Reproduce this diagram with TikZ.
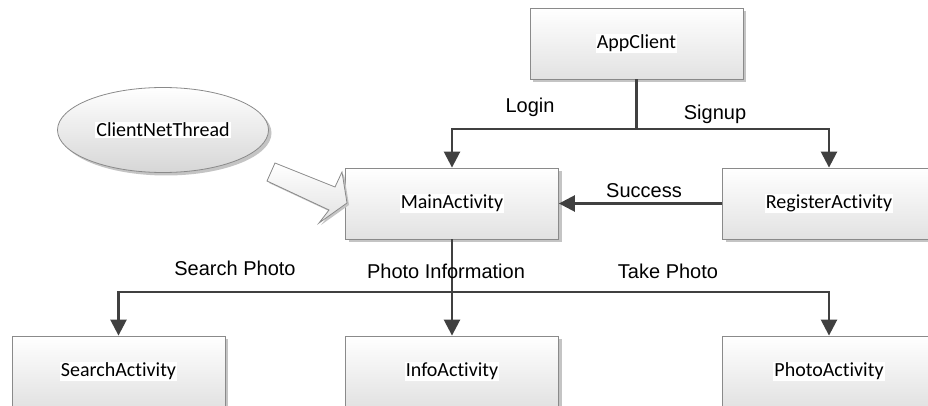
\documentclass[tikz,border=0pt]{standalone}
\usepackage{fontspec}
\setmainfont{Carlito}[Ligatures={NoCommon}]
\newfontfamily\labelfont{Liberation Sans}
\usetikzlibrary{arrows.meta,shapes.geometric,shadows}
\definecolor{linegray}{HTML}{404040}
\definecolor{edgegray}{HTML}{8A8A8A}
\definecolor{shadegray}{HTML}{E2E2E2}
\definecolor{shadowgray}{HTML}{C4C4C4}
\newcommand\onwhite[1]{{\setlength\fboxsep{1pt}\colorbox{white}{#1}}}
\tikzset{
  boxshadow/.style={drop shadow={shadow xshift=3pt, shadow yshift=-3pt, fill=shadowgray, opacity=1}},
  actbox/.style={rectangle, draw=edgegray, line width=0.8pt, top color=white,
    bottom color=shadegray, minimum width=213pt, minimum height=71pt,
    inner sep=0pt, font=\fontsize{20}{24}\selectfont, boxshadow},
  threadnode/.style={ellipse, draw=edgegray, line width=0.8pt, top color=white,
    bottom color=black!16, minimum width=211pt, minimum height=85pt,
    inner sep=0pt, font=\fontsize{20}{24}\selectfont, boxshadow},
  flowlabel/.style={anchor=base, inner sep=0pt, font=\labelfont\fontsize{20}{24}\selectfont},
  link/.style={draw=linegray, line width=2.5pt},
  arrowlink/.style={link, -{Triangle[length=16pt,width=16pt]}},
}
\begin{document}
\begin{tikzpicture}[x=1pt,y=-1pt]
\useasboundingbox (0,0) rectangle (928,406);

% activities
\node[actbox] (app)    at (636.5,43.5)  {\onwhite{AppClient}};
\node[actbox] (main)   at (452,203.5)   {\onwhite{MainActivity}};
\node[actbox] (reg)    at (829,203.5)   {\onwhite{RegisterActivity}};
\node[actbox] (search) at (118.5,371.5) {\onwhite{SearchActivity}};
\node[actbox] (info)   at (452,371.5)   {\onwhite{InfoActivity}};
\node[actbox] (photo)  at (829,371.5)   {\onwhite{PhotoActivity}};

% network thread feeding the main activity
\node[threadnode] (thread) at (163,130) {\onwhite{ClientNetThread}};
\fill[shadowgray] (277,165) -- (337,189) -- (344,174) -- (349,205) -- (321,225) -- (331,212) -- (269,183) -- cycle;
\path[draw=edgegray, line width=0.8pt, top color=white, bottom color=shadegray]
  (275,163) -- (335,187) -- (342,172) -- (347,203) -- (319,223) -- (329,210) -- (267,181) -- cycle;

% login / signup branch
\coordinate (split1) at (636.5,129);
\draw[link] (app.south) -- (split1);
\draw[arrowlink] (split1) -| (main.north);
\draw[arrowlink] (split1) -| (reg.north);
\draw[arrowlink] (reg.west) -- (main.east);

% branch to the three sub-activities
\coordinate (split2) at (452,292);
\draw[arrowlink] (main.south) -- (info.north);
\draw[arrowlink] (split2) -| (search.north);
\draw[arrowlink] (split2) -| (photo.north);

% connector labels
\node[flowlabel] (lLogin)   at (530,113) {Login};
\node[flowlabel] (lSignup)  at (715,120) {Signup};
\node[flowlabel] (lSuccess) at (644,197) {Success};
\node[flowlabel] (lSearch)  at (235,275) {Search Photo};
\node[flowlabel] (lInfo)    at (446,278) {Photo Information};
\node[flowlabel] (lTake)    at (668,278) {Take Photo};
\end{tikzpicture}
\end{document}
